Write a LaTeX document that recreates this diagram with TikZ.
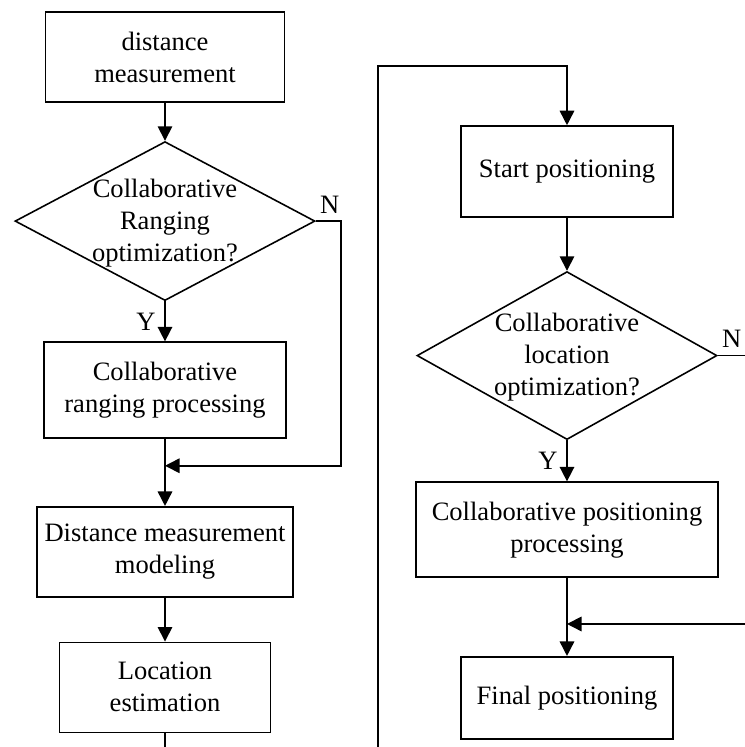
\documentclass[tikz,border=0pt]{standalone}
\usepackage{fontspec}
\setmainfont{Liberation Serif}
\usetikzlibrary{arrows.meta, positioning, shapes.geometric, calc}
\tikzset{
  every picture/.style={line width=0.9pt},
  box/.style={draw, align=center, inner sep=2pt, minimum width=#1, minimum height=1.8cm},
  box/.default=4.8cm,
  decision/.style={diamond, draw, inner sep=0pt, minimum width=6cm, minimum height=#1},
  decision/.default=3.2cm,
  arrow/.style={-{Triangle[length=2.9mm, width=2.9mm]}},
  lab/.style={inner sep=2pt},
}
\newcommand{\dtext}[1]{\smash{\raisebox{-0.16cm}{\begin{tabular}{@{}c@{}}#1\end{tabular}}}}

\begin{document}
\begin{tikzpicture}[font=\fontsize{15.1pt}{18.2pt}\selectfont]
  \useasboundingbox (0,0) rectangle (14.9,-14.94);
  \clip (0,0) rectangle (14.9,-14.94);
  % left column
  \node[box=4.78cm] (dm) at (3.3,-1.14) {distance\\measurement};
  \node[decision=3.18cm, below=0.76cm of dm] (cro) {\dtext{Collaborative\\Ranging\\optimization?}};
  \node[box=4.84cm, minimum height=1.92cm, below=0.8cm of cro] (crp) {Collaborative\\ranging processing};
  \node[box=5.12cm, below=1.34cm of crp] (dmm) {Distance measurement\\modeling};
  \node[box=4.22cm, below=0.88cm of dmm] (le) {Location\\estimation};
  % right column
  \node[box=4.24cm, minimum height=1.82cm] (sp) at (11.34,-3.43) {Start positioning};
  \node[decision=3.36cm, below=1.06cm of sp] (clo) {\dtext{Collaborative\\location\\optimization?}};
  \node[box=6.04cm, minimum height=1.9cm, below=0.82cm of clo] (cpp) {Collaborative positioning\\processing};
  \node[box=4.24cm, minimum height=1.64cm, below=1.56cm of cpp] (fp) {Final positioning};
  % joins and loop
  \coordinate (m1) at ($(crp.south)!0.4!(dmm.north)$);
  \coordinate (m2) at ($(cpp.south)!0.59!(fp.north)$);
  \coordinate (loopb) at (7.56,-15.4);
  \coordinate (loopt) at (7.56,-1.32);
  % connectors
  \draw[arrow] (dm) -- (cro);
  \draw[arrow] (cro) -- node[lab, left=3pt, pos=0.5] (y1) {Y} (crp);
  \draw[arrow] (crp) -- (dmm);
  \draw[arrow] (cro.east) -- ++(0.5,0) |- (m1);
  \node[lab, anchor=south west, yshift=2pt] (n1) at (cro.east) {N};
  \draw[arrow] (dmm) -- (le);
  \draw[arrow] (le) -- (le |- loopb) -- (loopb) -- (loopt) -| (sp);
  \draw[arrow] (sp) -- (clo);
  \draw[arrow] (clo) -- node[lab, left=3pt, pos=0.5] (y2) {Y} (cpp);
  \draw[arrow] (cpp) -- (fp);
  \draw[arrow] (clo.east) -- ++(0.8,0) |- (m2);
  \node[lab, anchor=south west, yshift=2pt] (n2) at (clo.east) {N};
\end{tikzpicture}
\end{document}
